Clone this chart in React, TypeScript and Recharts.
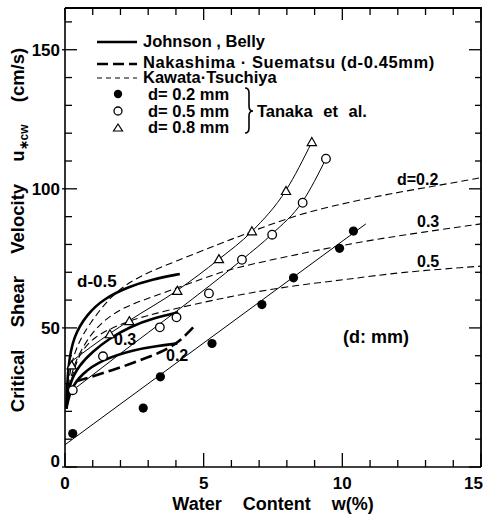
import React from 'react';
import { ComposedChart, Line, Scatter, XAxis, YAxis } from 'recharts';

// water content w (%) vs critical shear velocity u*cw (cm/s), [w, u]

// Tanaka et al. measured points
const tanaka02 = [[0.28, 12], [2.82, 21.2], [3.44, 32.4], [5.3, 44.4], [7.1, 58.4], [8.24, 68], [9.9, 78.6], [10.4, 84.8]];
const tanaka05 = [[0.28, 27.6], [1.37, 39.8], [3.42, 50.2], [4.02, 53.8], [5.19, 62.4], [6.38, 74.5], [7.47, 83.5], [8.57, 95], [9.41, 110.8]];
const tanaka08 = [[0.24, 36.5], [1.62, 47.7], [2.32, 52.4], [4.05, 63.3], [5.55, 74.7], [6.74, 84.7], [7.97, 99.2], [8.9, 116.8]];

// lines drawn through the Tanaka points
const tanaka02Fit = [[0, 8], [10.85, 87.4]];
const tanaka05Fit = [[0.28, 27.6], [2, 40.8], [4.02, 56], [6.38, 74.5], [7.47, 83.8], [8.57, 95.5], [9.41, 110.8]];
const tanaka08Fit = [[0.24, 38], [1.62, 48], [2.3, 52.5], [4.05, 63.5], [5.55, 74.7], [6.74, 84.7], [7.97, 99.5], [8.9, 116.8]];

// Johnson, Belly
const johnson05 = [[0.05, 21], [0.1, 36], [0.3, 47], [0.8, 55], [1.4, 60.5], [2.29, 64.8], [3.13, 67.4], [4.14, 69.4]];
const johnson03 = [[0.05, 21], [0.15, 30], [0.5, 36.5], [1.0, 41.5], [1.57, 46], [2.35, 50.5], [3.2, 53.5], [4.08, 55.6]];
const johnson02 = [[0.05, 21], [0.2, 28], [0.6, 33.5], [1.33, 38.6], [2.5, 42.2], [3.3, 43.5], [4.05, 44.4]];

// Nakashima, Suematsu (d = 0.45mm)
const nakashima = [[0.4, 30.8], [1.69, 34.8], [2.82, 38.8], [3.5, 41.6], [4.1, 45.2], [4.62, 50.2]];

// Kawata, Tsuchiya
const kawata02 = [[0.08, 25], [0.2, 37], [0.5, 45], [0.85, 51], [1.69, 62.2], [2.7, 68.8], [4, 74], [5.58, 80.2], [6.65, 84.4], [8.45, 91], [10.25, 95.2], [11.7, 98.2], [13.5, 101.3], [15, 104]];
const kawata03 = [[0.08, 25], [0.25, 35], [0.6, 42.5], [1.09, 50], [1.93, 56.8], [3.1, 61], [5.1, 68.2], [6.05, 71.5], [8.45, 76.6], [10.25, 80.2], [12.05, 83.2], [15, 87.4]];
const kawata05 = [[0.08, 24], [0.3, 35], [0.6, 42], [1.1, 47], [1.7, 50], [2.29, 52.4], [3.13, 55], [5.1, 59.5], [6.65, 62.6], [8.45, 65.5], [10.25, 67.5], [12.05, 70], [15, 72.2]];

const xTicks = [0, 1, 2, 3, 4, 5, 6, 7, 8, 9, 10, 11, 12, 13, 14, 15];
const yTicks = [0, 10, 20, 30, 40, 50, 60, 70, 80, 90, 100, 110, 120, 130, 140, 150, 160];
const xMajor = [0, 5, 10, 15];
const yMajor = [0, 50, 100, 150];

// plot box in page pixels (chart is 483x516, margins below)
const PLOT_LEFT = 65;
const PLOT_TOP = 8;
const PLOT_RIGHT = 481;
const PLOT_BOTTOM = 467;

const toPts = (arr: number[][]) => arr.map(([w, v]) => ({ w, v }));

const font = "'Liberation Sans', Arial, Helvetica, sans-serif";
const narrow = "'Liberation Sans Narrow', 'Liberation Sans', Arial, sans-serif";

// bottom ticks + labels, and the matching ticks hanging from the top frame
function BottomTick(props: any) {
  const { x, y, payload } = props;
  const major = xMajor.includes(payload.value);
  const last = payload.value === 15;
  return (
    <g>
      <line x1={x} x2={x} y1={y} y2={y - (major ? 14 : 7)} stroke="#000" strokeWidth={1.3} />
      <line x1={x} x2={x} y1={PLOT_TOP} y2={PLOT_TOP + (major ? 12 : 7)} stroke="#000" strokeWidth={1.3} />
      {major && (
        <text
          x={last ? x + 2 : x}
          y={y + 22}
          textAnchor={last ? 'end' : 'middle'}
          fontFamily={narrow}
          fontWeight="bold"
          fontSize={17}
          fill="#000"
        >
          {payload.value}
        </text>
      )}
    </g>
  );
}

// left ticks + labels, and the matching ticks on the right frame
function LeftTick(props: any) {
  const { x, y, payload } = props;
  const major = yMajor.includes(payload.value);
  return (
    <g>
      <line x1={major ? x - 3 : x} x2={x + (major ? 12 : 7)} y1={y} y2={y} stroke="#000" strokeWidth={1.3} />
      <line x1={PLOT_RIGHT} x2={PLOT_RIGHT - (major ? 12 : 6)} y1={y} y2={y} stroke="#000" strokeWidth={1.3} />
      {major && (
        <text x={x - 5} y={payload.value === 0 ? y : y + 6.5} textAnchor="end" fontFamily={narrow} fontWeight="bold" fontSize={17} fill="#000">
          {payload.value}
        </text>
      )}
    </g>
  );
}

const FilledDot = (p: any) => <circle cx={p.cx} cy={p.cy} r={4.6} fill="#000" />;
const OpenDot = (p: any) => <circle cx={p.cx} cy={p.cy} r={4.3} fill="#fff" stroke="#000" strokeWidth={1.3} />;
const OpenTri = (p: any) => {
  const { cx, cy } = p;
  const s = 4.6;
  return (
    <polygon
      points={`${cx},${cy - s} ${cx + s},${cy + s * 0.75} ${cx - s},${cy + s * 0.75}`}
      fill="#fff"
      stroke="#000"
      strokeWidth={1.2}
    />
  );
};

const lbl = { fontFamily: font, fontWeight: 'bold' as const, fill: '#000' };

export default function App() {
  return (
    <div style={{ position: 'absolute', left: 0, top: 0, width: 483, height: 516, background: '#fff' }}>
      <ComposedChart width={483} height={516} margin={{ top: PLOT_TOP, right: 483 - PLOT_RIGHT, bottom: 0, left: 0 }}>
        <XAxis
          dataKey="w"
          type="number"
          domain={[0, 15]}
          ticks={xTicks}
          interval={0}
          height={516 - PLOT_BOTTOM}
          tickSize={0}
          tickMargin={0}
          tickLine={false}
          tick={BottomTick}
          axisLine={{ stroke: '#000', strokeWidth: 1.6 }}
        />
        <YAxis
          dataKey="v"
          type="number"
          domain={[0, 165]}
          ticks={yTicks}
          interval={0}
          width={PLOT_LEFT}
          tickSize={0}
          tickMargin={0}
          tickLine={false}
          tick={LeftTick}
          axisLine={{ stroke: '#000', strokeWidth: 1.6 }}
        />

        {/* Kawata, Tsuchiya */}
        <Line data={toPts(kawata02)} dataKey="v" type="basis" stroke="#000" strokeWidth={1.1} strokeDasharray="7 4" dot={false} isAnimationActive={false} />
        <Line data={toPts(kawata03)} dataKey="v" type="basis" stroke="#000" strokeWidth={1.1} strokeDasharray="7 4" dot={false} isAnimationActive={false} />
        <Line data={toPts(kawata05)} dataKey="v" type="basis" stroke="#000" strokeWidth={1.1} strokeDasharray="7 4" dot={false} isAnimationActive={false} />

        {/* Tanaka fit lines */}
        <Line data={toPts(tanaka02Fit)} dataKey="v" type="linear" stroke="#000" strokeWidth={1} dot={false} isAnimationActive={false} />
        <Line data={toPts(tanaka05Fit)} dataKey="v" type="monotone" stroke="#000" strokeWidth={1} dot={false} isAnimationActive={false} />
        <Line data={toPts(tanaka08Fit)} dataKey="v" type="monotone" stroke="#000" strokeWidth={1} dot={false} isAnimationActive={false} />

        {/* Johnson, Belly */}
        <Line data={toPts(johnson05)} dataKey="v" type="basis" stroke="#000" strokeWidth={2.6} dot={false} isAnimationActive={false} />
        <Line data={toPts(johnson03)} dataKey="v" type="basis" stroke="#000" strokeWidth={2.6} dot={false} isAnimationActive={false} />
        <Line data={toPts(johnson02)} dataKey="v" type="basis" stroke="#000" strokeWidth={2.6} dot={false} isAnimationActive={false} />

        {/* Nakashima, Suematsu */}
        <Line data={toPts(nakashima)} dataKey="v" type="monotone" stroke="#000" strokeWidth={2.6} strokeDasharray="12 5" dot={false} isAnimationActive={false} />

        <Scatter data={toPts(tanaka02)} dataKey="v" shape={FilledDot} isAnimationActive={false} />
        <Scatter data={toPts(tanaka05)} dataKey="v" shape={OpenDot} isAnimationActive={false} />
        <Scatter data={toPts(tanaka08)} dataKey="v" shape={OpenTri} isAnimationActive={false} />
      </ComposedChart>

      <svg width={483} height={516} style={{ position: 'absolute', left: 0, top: 0, pointerEvents: 'none' }}>
        {/* top and right sides of the frame */}
        <path
          d={`M${PLOT_LEFT},${PLOT_TOP} H${PLOT_RIGHT} V${PLOT_BOTTOM}`}
          fill="none"
          stroke="#000"
          strokeWidth={1.8}
        />

        {/* legend */}
        <line x1={97} x2={137} y1={42} y2={42} stroke="#000" strokeWidth={2.4} />
        <text x={143} y={47} fontSize={16.5} {...lbl}>Johnson , Belly</text>
        <line x1={97} x2={137} y1={64} y2={64} stroke="#000" strokeWidth={2.4} strokeDasharray="11 5" />
        <text x={143} y={68} fontSize={16.5} {...lbl} style={{ letterSpacing: 0.6 }}>Nakashima · Suematsu (d-0.45mm)</text>
        <line x1={97} x2={137} y1={78} y2={78} stroke="#000" strokeWidth={1.1} strokeDasharray="5 4" />
        <text x={143} y={83} fontSize={16.5} {...lbl}>Kawata·Tsuchiya</text>
        <circle cx={118} cy={94} r={4.2} fill="#000" />
        <text x={148} y={100} fontSize={16.5} {...lbl}>d= 0.2 mm</text>
        <circle cx={118} cy={111} r={4} fill="#fff" stroke="#000" strokeWidth={1.3} />
        <text x={148} y={117} fontSize={16.5} {...lbl}>d= 0.5 mm</text>
        <polygon points="118,124 122.5,131 113.5,131" fill="#fff" stroke="#000" strokeWidth={1.2} />
        <text x={148} y={133} fontSize={16.5} {...lbl}>d= 0.8 mm</text>
        <path d="M245,88 Q249,88 249,93 L249,106 Q249,111 253,111 Q249,111 249,116 L249,128 Q249,133 245,133" fill="none" stroke="#000" strokeWidth={1.6} />
        <text x={257} y={117} fontSize={16.5} {...lbl} style={{ wordSpacing: 6 }}>Tanaka et al.</text>

        {/* curve labels */}
        <text x={77} y={287} fontSize={17} {...lbl}>d-0.5</text>
        <text x={114} y={345} fontSize={16} {...lbl}>0.3</text>
        <text x={166} y={361} fontSize={16} {...lbl}>0.2</text>
        <text x={397} y={185} fontSize={16} {...lbl}>d=0.2</text>
        <text x={417} y={227} fontSize={16} {...lbl}>0.3</text>
        <text x={417} y={267} fontSize={16} {...lbl}>0.5</text>
        <text x={343} y={343} fontSize={18} {...lbl}>(d: mm)</text>

        {/* axis titles */}
        <text x={273} y={510} fontSize={18} textAnchor="middle" {...lbl} style={{ wordSpacing: 16 }}>
          Water Content w(%)
        </text>
        <text x={24} y={230} fontSize={18.5} textAnchor="middle" transform="rotate(-90 24 230)" {...lbl} style={{ wordSpacing: 17 }}>
          Critical Shear Velocity u<tspan fontSize={12} dy={4}>∗cw</tspan><tspan dy={-4}> (cm/s)</tspan>
        </text>
      </svg>
    </div>
  );
}
